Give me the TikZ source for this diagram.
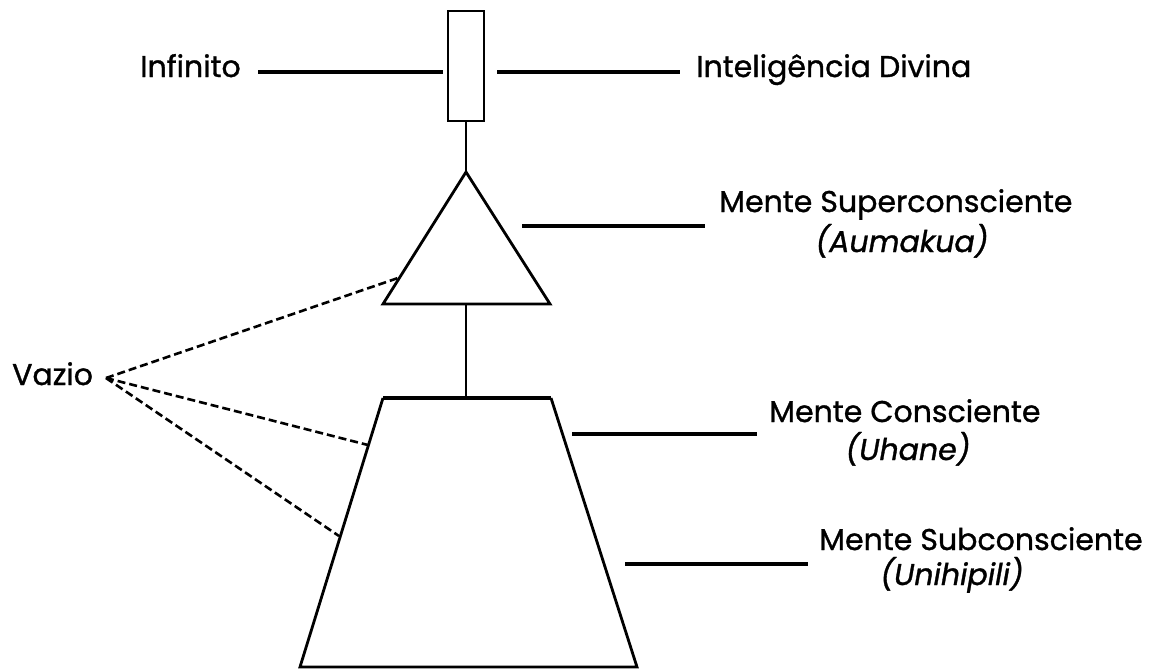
\documentclass[tikz,border=0pt]{standalone}
\usepackage{fontspec}
\setmainfont{Poppins}[UprightFeatures={FakeBold=1.1},ItalicFeatures={FakeBold=1.1}]
\begin{document}
\begin{tikzpicture}[x=1pt,y=-1pt,
  lbl/.style={font=\fontsize{30}{32}\selectfont, inner sep=0pt, anchor=base west},
  sub/.style={font=\fontsize{30}{32}\selectfont\itshape, inner sep=0pt, anchor=base},
  outl/.style={line width=2.8pt, line join=miter},
  leader/.style={line width=3.6pt},
  dashln/.style={line width=2.6pt, dash pattern=on 8pt off 4pt}]
\useasboundingbox (0,0) rectangle (1158,670);
\fill[white] (0,0) rectangle (1158,670);
% rectangle
\node[draw, line width=2.8pt, minimum width=36pt, minimum height=110pt, inner sep=0pt] (rect) at (466,66) {};
% triangle
\coordinate (tA) at (466,172);
\coordinate (tL) at (383,304);
\coordinate (tR) at (550,304);
\draw[outl] (tA) -- (tL) -- (tR) -- cycle;
% trapezoid
\coordinate (qTL) at (383,398);
\coordinate (qTR) at (551,398);
\coordinate (qBR) at (637,667);
\coordinate (qBL) at (300,667);
\draw[outl] (qTL) -- (qBL) -- (qBR) -- (qTR);
\draw[line width=3.8pt] (qTL) -- (qTR);
% connections
\draw[outl] (rect.south) -- (tA);
\coordinate (tB) at (466,304);
\coordinate (qT) at (466,398);
\draw[outl] (tB) -- (qT);
% labels
\node[lbl] (inf) at (140,77) {Infinito};
\node[lbl] (div) at (696,77) {Inteligência Divina};
\node[lbl] (sup) at (719,212) {Mente Superconsciente};
\node[sub] (aum) at (902,252) {(Aumakua)};
\node[lbl] (con) at (769,422) {Mente Consciente};
\node[sub] (uha) at (908,460) {(Uhane)};
\node[lbl] (subc) at (819,550) {Mente Subconsciente};
\node[sub] (uni) at (952,585) {(Unihipili)};
\node[lbl] (vaz) at (12,385) {Vazio};
% leaders
\coordinate (l1a) at (258,72); \coordinate (l1b) at (443,72);
\draw[leader] (l1a) -- (l1b);
\coordinate (l2a) at (497,72); \coordinate (l2b) at (680,72);
\draw[leader] (l2a) -- (l2b);
\coordinate (l3a) at (522,226); \coordinate (l3b) at (705,226);
\draw[leader] (l3a) -- (l3b);
\coordinate (l4a) at (572,434); \coordinate (l4b) at (757,434);
\draw[leader] (l4a) -- (l4b);
\coordinate (l5a) at (625,564); \coordinate (l5b) at (808,564);
\draw[leader] (l5a) -- (l5b);
% vazio dashed
\coordinate (vp) at (106,378);
\coordinate (d1) at (398,278);
\coordinate (d2) at (368,445);
\coordinate (d3) at (339,536);
\draw[dashln] (vp) -- (d1);
\draw[dashln] (vp) -- (d2);
\draw[dashln] (vp) -- (d3);
\end{tikzpicture}
\end{document}
